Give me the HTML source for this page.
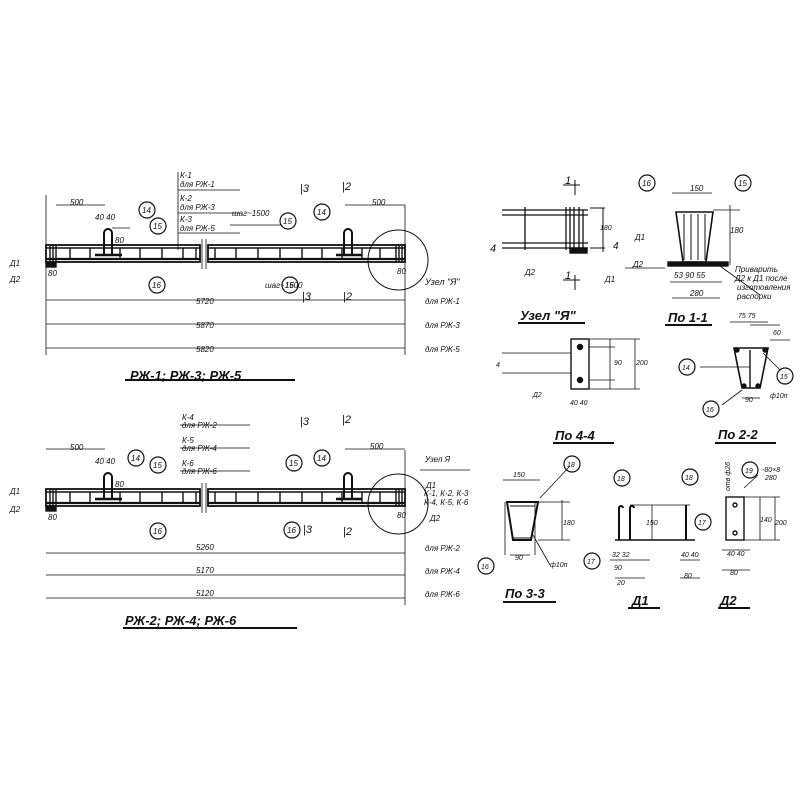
<!DOCTYPE html>
<html><head><meta charset="utf-8"><style>
html,body{margin:0;padding:0;background:#fff;}
svg{display:block}
text{font-family:"Liberation Sans",sans-serif;font-style:italic;fill:#111;}
</style></head><body>
<svg width="800" height="800" viewBox="0 0 800 800" xmlns="http://www.w3.org/2000/svg" stroke="#111" fill="none" stroke-width="1.4">
<defs>
<g id="beam">
 <rect x="46" y="0" width="154" height="17" stroke-width="1.8"/>
 <rect x="208" y="0" width="197" height="17" stroke-width="1.8"/>
 <line x1="46" y1="3" x2="200" y2="3"/><line x1="208" y1="3" x2="405" y2="3"/>
 <line x1="46" y1="14" x2="200" y2="14" stroke-width="2.2"/><line x1="208" y1="14" x2="405" y2="14" stroke-width="2.2"/>
 <path d="M50 0V17M53 0V17M56 0V17M396 0V17M399 0V17M402 0V17"/>
 <path d="M70 3V14M90 3V14M120 3V14M140 3V14M162 3V14M183 3V14M196 3V14M215 3V14M236 3V14M258 3V14M280 3V14M302 3V14M322 3V14M342 3V14M362 3V14M380 3V14"/>
 <path d="M202 -6V24M206 -6V24" stroke-width="0.8"/>
 <path d="M104 10V-12a4 4 0 0 1 8 0V10M344 10V-12a4 4 0 0 1 8 0V10" stroke-width="2"/>
 <path d="M95 10h14M108 10h14M336 10h14M348 10h14" stroke-width="2.5"/>
 <rect x="46" y="17" width="10" height="5" fill="#111"/>
 <circle cx="398" cy="15" r="30" stroke-width="1"/>
</g>
<g id="circ"><circle r="8" stroke-width="1.2"/></g>
</defs>

<!-- TOP BEAM -->
<use href="#beam" y="245"/>
<g font-size="8" stroke="none">
<text x="70" y="205">500</text><text x="95" y="220">40 40</text><text x="115" y="243">80</text>
<text x="180" y="178">К-1</text><text x="180" y="187">для РЖ-1</text>
<text x="180" y="201">К-2</text><text x="180" y="210">для РЖ-3</text>
<text x="180" y="222">К-3</text><text x="180" y="231">для РЖ-5</text>
<text x="232" y="216">шаг~1500</text><text x="265" y="288">шаг~1500</text>
<text x="372" y="205">500</text><text x="48" y="276">80</text><text x="397" y="274">80</text>
<text x="10" y="266">Д1</text><text x="10" y="282">Д2</text>
<text x="425" y="285" font-size="9">Узел "Я"</text>
<text x="196" y="304">5720</text><text x="196" y="328">5870</text><text x="196" y="352">5820</text>
<text x="425" y="304">для РЖ-1</text><text x="425" y="328">для РЖ-3</text><text x="425" y="352">для РЖ-5</text>
<text x="300" y="192" font-size="11" font-style="normal">|3</text><text x="342" y="190" font-size="11" font-style="normal">|2</text>
<text x="302" y="300" font-size="11" font-style="normal">|3</text><text x="343" y="300" font-size="11" font-style="normal">|2</text>
<text x="130" y="380" font-size="13" font-weight="bold">РЖ-1; РЖ-3; РЖ-5</text>
</g>
<path d="M178 172V250M178 190H240M178 213H240M178 233H240M230 225H282" stroke-width="0.8"/>
<path d="M46 300H405M46 324H405M46 348H405M46 195V355M405 205V355M56 205H105M345 205H405M112 228H130" stroke-width="0.8"/>
<line x1="125" y1="380" x2="295" y2="380" stroke-width="2"/>
<g transform="translate(147,210)"><use href="#circ"/></g>
<g transform="translate(158,226)"><use href="#circ"/></g>
<g transform="translate(157,285)"><use href="#circ"/></g>
<g transform="translate(288,221)"><use href="#circ"/></g>
<g transform="translate(290,285)"><use href="#circ"/></g>
<g transform="translate(322,212)"><use href="#circ"/></g>
<g font-size="8" stroke="none"><text x="142" y="213">14</text><text x="153" y="229">15</text><text x="152" y="288">16</text><text x="283" y="224">15</text><text x="285" y="288">16</text><text x="317" y="215">14</text></g>

<!-- BOTTOM BEAM -->
<use href="#beam" y="489"/>
<g font-size="8" stroke="none">
<text x="70" y="450">500</text><text x="95" y="464">40 40</text><text x="115" y="487">80</text>
<text x="182" y="420">К-4</text><text x="182" y="428">для РЖ-2</text>
<text x="182" y="443">К-5</text><text x="182" y="451">для РЖ-4</text>
<text x="182" y="466">К-6</text><text x="182" y="474">для РЖ-6</text>
<text x="370" y="449">500</text><text x="48" y="520">80</text><text x="397" y="518">80</text>
<text x="10" y="494">Д1</text><text x="10" y="512">Д2</text>
<text x="425" y="462">Узел Я</text><text x="426" y="488">Д1</text><text x="424" y="496">К-1, К-2, К-3</text><text x="424" y="505">К-4, К-5, К-6</text><text x="430" y="521">Д2</text>
<text x="196" y="550">5260</text><text x="196" y="573">5170</text><text x="196" y="596">5120</text>
<text x="425" y="551">для РЖ-2</text><text x="425" y="574">для РЖ-4</text><text x="425" y="597">для РЖ-6</text>
<text x="300" y="425" font-size="11" font-style="normal">|3</text><text x="342" y="423" font-size="11" font-style="normal">|2</text>
<text x="303" y="533" font-size="11" font-style="normal">|3</text><text x="343" y="535" font-size="11" font-style="normal">|2</text>
<text x="125" y="625" font-size="13" font-weight="bold">РЖ-2; РЖ-4; РЖ-6</text>
</g>
<path d="M180 425H250M180 448H250M180 471H250" stroke-width="0.8"/>
<path d="M46 553H405M46 575H405M46 598H405M405 450V605M46 449H105M345 449H405M420 470H470" stroke-width="0.8"/>
<line x1="123" y1="628" x2="297" y2="628" stroke-width="2"/>
<g transform="translate(136,458)"><use href="#circ"/></g>
<g transform="translate(158,465)"><use href="#circ"/></g>
<g transform="translate(158,531)"><use href="#circ"/></g>
<g transform="translate(294,463)"><use href="#circ"/></g>
<g transform="translate(292,530)"><use href="#circ"/></g>
<g transform="translate(322,458)"><use href="#circ"/></g>
<g font-size="8" stroke="none"><text x="131" y="461">14</text><text x="153" y="468">15</text><text x="153" y="534">16</text><text x="289" y="466">15</text><text x="287" y="533">16</text><text x="317" y="461">14</text></g>

<!-- УЗЕЛ Я -->
<path d="M502 210H588M502 215H588M502 243H588M502 248H588M525 207V250M566 207V250M570 207V250M574 207V250M579 207V250M583 210V250" stroke-width="1.3"/>
<rect x="570" y="248" width="17" height="5" fill="#111"/>
<path d="M563 185H580M575 180V195M563 280H580M575 275V290M590 208H605M590 248H605M603 208V252" stroke-width="1"/>
<text x="565" y="184" font-size="11" stroke="none">1</text><text x="565" y="279" font-size="11" stroke="none">1</text>
<text x="490" y="252" font-size="11" stroke="none">4</text><text x="613" y="249" font-size="10" stroke="none">4</text>
<text x="600" y="230" font-size="7" stroke="none">180</text><text x="525" y="275" font-size="8" stroke="none">Д2</text><text x="605" y="282" font-size="8" stroke="none">Д1</text>
<text x="520" y="320" font-size="13" font-weight="bold" stroke="none">Узел "Я"</text>
<line x1="518" y1="323" x2="585" y2="323" stroke-width="2"/>

<!-- ПО 1-1 -->
<path d="M676 212H713L706 262H683Z" stroke-width="1.6"/>
<path d="M684 214V260M691 214V260M698 214V260M705 214V260" stroke-width="1"/>
<rect x="668" y="262" width="60" height="4" fill="#111"/>
<path d="M672 193H712M713 210H740M730 205V265M670 282H722M672 298H720M625 268H665M720 266L760 295" stroke-width="0.8"/>
<g transform="translate(647,183)"><use href="#circ"/></g><g transform="translate(743,183)"><use href="#circ"/></g>
<g font-size="8" stroke="none"><text x="642" y="186">16</text><text x="738" y="186">15</text>
<text x="690" y="191">150</text><text x="730" y="233">180</text><text x="635" y="240">Д1</text><text x="633" y="267">Д2</text>
<text x="674" y="278">53 90 55</text><text x="690" y="296">280</text>
<text x="735" y="272">Приварить</text><text x="735" y="281">Д2 к Д1 после</text><text x="737" y="290">изготовления</text><text x="737" y="299">распорки</text></g>
<text x="668" y="322" font-size="13" font-weight="bold" stroke="none">По 1-1</text>
<line x1="665" y1="325" x2="712" y2="325" stroke-width="2"/>

<!-- ПО 4-4 -->
<rect x="571" y="339" width="18" height="50" stroke-width="1.4"/>
<circle cx="580" cy="347" r="2.5" fill="#111"/><circle cx="580" cy="380" r="2.5" fill="#111"/>
<path d="M502 353H571M502 373H571M589 339H640M589 347H615M589 380H615M589 389H640M635 339V389M610 339V389" stroke-width="0.8"/>
<g font-size="7" stroke="none"><text x="614" y="365">90</text><text x="636" y="365">200</text><text x="570" y="405">40 40</text><text x="533" y="397">Д2</text><text x="496" y="367">4</text></g>
<text x="555" y="440" font-size="13" font-weight="bold" stroke="none">По 4-4</text>
<line x1="553" y1="443" x2="614" y2="443" stroke-width="2"/>

<!-- ПО 2-2 -->
<path d="M734 348H768L760 388H742Z" stroke-width="1.6"/>
<line x1="750" y1="350" x2="750" y2="388"/>
<circle cx="737" cy="350" r="2" fill="#111"/><circle cx="765" cy="350" r="2" fill="#111"/>
<circle cx="744" cy="386" r="2" fill="#111"/><circle cx="758" cy="386" r="2" fill="#111"/>
<path d="M730 322H768M750 325H780M770 340H790M742 398H760M700 367H750M763 353L780 370M742 390L722 405" stroke-width="0.8"/>
<g transform="translate(687,367)"><use href="#circ"/></g><g transform="translate(785,376)"><use href="#circ"/></g><g transform="translate(711,409)"><use href="#circ"/></g>
<g font-size="7" stroke="none"><text x="682" y="370">14</text><text x="780" y="379">15</text><text x="706" y="412">16</text>
<text x="738" y="318">75  75</text><text x="773" y="335">60</text><text x="745" y="402">90</text><text x="770" y="398">ф10п</text></g>
<text x="718" y="439" font-size="13" font-weight="bold" stroke="none">По 2-2</text>
<line x1="715" y1="443" x2="776" y2="443" stroke-width="2"/>

<!-- ПО 3-3 -->
<path d="M507 502H538L531 540H513Z" stroke-width="2"/>
<path d="M510 506H535M512 538H532" stroke-width="1"/>
<path d="M503 480H540M538 502H570M538 540H570M562 500V540M510 555H530M505 502V555M535 502V555M540 498L570 466M533 535L550 565" stroke-width="0.8"/>
<g transform="translate(572,464)"><use href="#circ"/></g><g transform="translate(486,566)"><use href="#circ"/></g>
<g font-size="7" stroke="none"><text x="567" y="467">18</text><text x="481" y="569">16</text><text x="513" y="477">150</text><text x="563" y="525">180</text><text x="515" y="560">90</text><text x="550" y="567">ф10п</text></g>
<text x="505" y="598" font-size="13" font-weight="bold" stroke="none">По 3-3</text>
<line x1="503" y1="602" x2="556" y2="602" stroke-width="2"/>

<!-- Д1 -->
<path d="M619 540V508a2 2 0 0 1 4 0M630 540V508a2 2 0 0 1 4 0M686 540V505" stroke-width="2"/>
<path d="M615 540H695" stroke-width="1.5"/>
<path d="M630 505H690M610 560H650M680 560H700M615 578H645M680 578H700M652 505V540" stroke-width="0.8"/>
<g transform="translate(622,478)"><use href="#circ"/></g><g transform="translate(690,477)"><use href="#circ"/></g>
<g transform="translate(703,522)"><use href="#circ"/></g><g transform="translate(592,561)"><use href="#circ"/></g>
<g font-size="7" stroke="none"><text x="617" y="481">18</text><text x="685" y="480">18</text><text x="698" y="525">17</text><text x="587" y="564">17</text>
<text x="646" y="525">150</text><text x="612" y="557">32 32</text><text x="614" y="570">90</text><text x="617" y="585">20</text><text x="681" y="557">40 40</text><text x="684" y="578">80</text></g>
<text x="632" y="605" font-size="13" font-weight="bold" stroke="none">Д1</text>
<line x1="628" y1="608" x2="660" y2="608" stroke-width="2"/>

<!-- Д2 -->
<rect x="726" y="497" width="18" height="43" stroke-width="1.4"/>
<circle cx="735" cy="505" r="2"/><circle cx="735" cy="533" r="2"/>
<path d="M744 497H780M744 540H780M760 497V540M775 497V540M722 550H750M722 570H750M744 488L758 475" stroke-width="0.8"/>
<g transform="translate(750,470)"><use href="#circ"/></g>
<g font-size="7" stroke="none"><text x="745" y="473">19</text><text x="762" y="472">-80×8</text><text x="765" y="480">280</text>
<text x="760" y="522">140</text><text x="775" y="525">200</text><text x="727" y="556">40 40</text><text x="730" y="575">80</text></g>
<text x="730" y="491" font-size="7" stroke="none" transform="rotate(-90 730 491)">отв ф26</text>
<text x="720" y="605" font-size="13" font-weight="bold" stroke="none">Д2</text>
<line x1="718" y1="608" x2="750" y2="608" stroke-width="2"/>
</svg>
</body></html>
